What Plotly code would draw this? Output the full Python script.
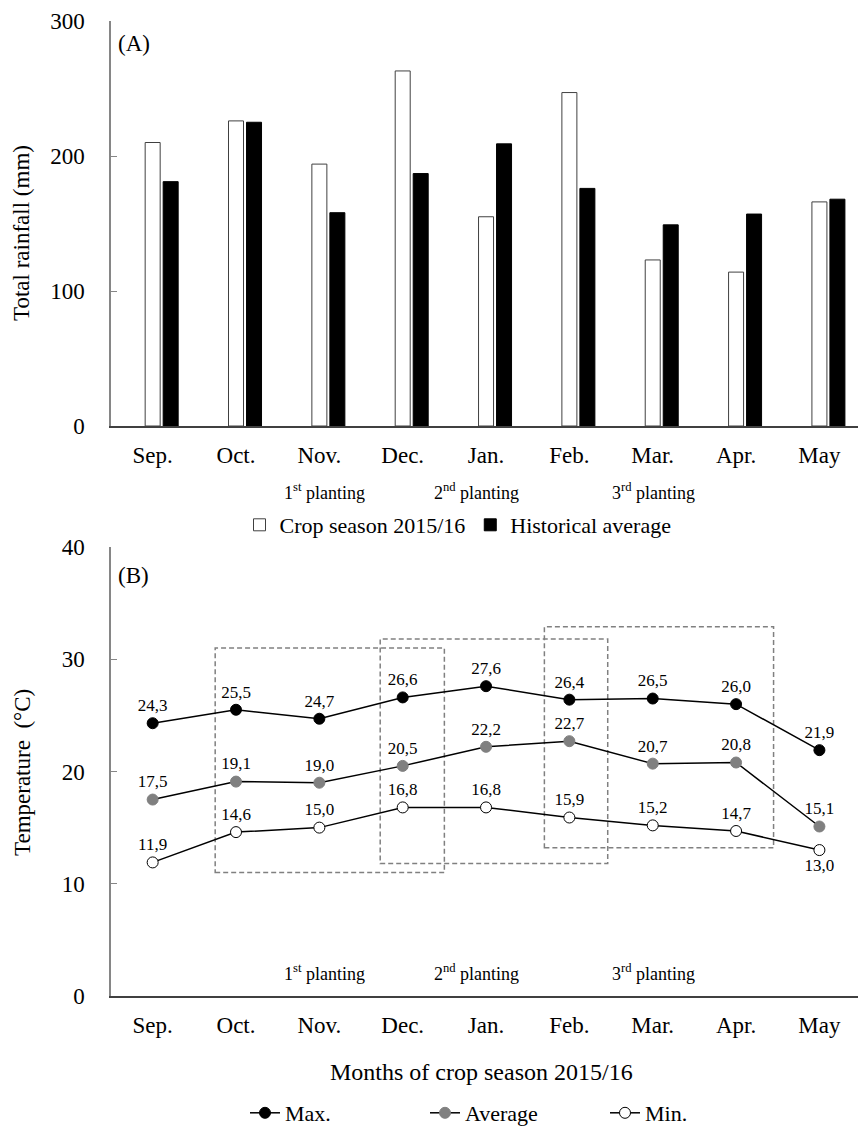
import plotly.graph_objects as go

# ---------------- data ----------------
months = ["Sep.", "Oct.", "Nov.", "Dec.", "Jan.", "Feb.", "Mar.", "Apr.", "May"]
rain_season = [210, 226, 194, 263, 155, 247, 123, 114, 166]
rain_hist = [181, 225, 158, 187, 209, 176, 149, 157, 168]

t_max = [24.3, 25.5, 24.7, 26.6, 27.6, 26.4, 26.5, 26.0, 21.9]
t_avg = [17.5, 19.1, 19.0, 20.5, 22.2, 22.7, 20.7, 20.8, 15.1]
t_min = [11.9, 14.6, 15.0, 16.8, 16.8, 15.9, 15.2, 14.7, 13.0]

planting_labels = ["1<sup>st</sup> planting", "2<sup>nd</sup> planting", "3<sup>rd</sup> planting"]
planting_x = [2.06, 3.89, 6.01]

box_x0 = [0.75, 2.73, 4.70]
box_x1 = [3.50, 5.46, 7.45]
box_y0 = [11.0, 11.8, 13.2]
box_y1 = [31.0, 31.8, 32.9]

FONT = "Liberation Serif"
W, H = 858, 1126


def fmt(v):
    return f"{v:.1f}".replace(".", ",")


fig = go.Figure()

# ---------------- top: rainfall bars ----------------
bw = 0.18
fig.add_trace(go.Bar(
    x=months, y=rain_season, name="Crop season 2015/16",
    marker=dict(color="white", line=dict(color="#404040", width=1)),
    width=bw, offset=-bw / 2, xaxis="x", yaxis="y", legend="legend",
))
fig.add_trace(go.Bar(
    x=months, y=rain_hist, name="Historical average",
    marker=dict(color="black", line=dict(color="black", width=1)),
    width=bw, offset=0.126, xaxis="x", yaxis="y", legend="legend",
))

# ---------------- bottom: temperatures ----------------
lab_font = dict(family=FONT, size=17, color="black")
fig.add_trace(go.Scatter(
    x=months, y=t_max, name="Max.", mode="lines+markers+text",
    line=dict(color="black", width=1.5),
    marker=dict(size=11, color="black", line=dict(color="black", width=1)),
    text=[fmt(v) for v in t_max], textposition="top center", textfont=lab_font,
    xaxis="x2", yaxis="y2", legend="legend2",
))
fig.add_trace(go.Scatter(
    x=months, y=t_avg, name="Average", mode="lines+markers+text",
    line=dict(color="black", width=1.5),
    marker=dict(size=11, color="#808080", line=dict(color="#808080", width=1)),
    text=[fmt(v) for v in t_avg], textposition="top center", textfont=lab_font,
    xaxis="x2", yaxis="y2", legend="legend2",
))
min_pos = ["top center"] * (len(t_min) - 1) + ["bottom center"]
fig.add_trace(go.Scatter(
    x=months, y=t_min, name="Min.", mode="lines+markers+text",
    line=dict(color="black", width=1.5),
    marker=dict(size=11, color="white", line=dict(color="black", width=1)),
    text=[fmt(v) for v in t_min], textposition=min_pos, textfont=lab_font,
    xaxis="x2", yaxis="y2", legend="legend2",
))

# dashed planting windows
for x0, x1, y0, y1 in zip(box_x0, box_x1, box_y0, box_y1):
    fig.add_shape(type="rect", xref="x2", yref="y2", x0=x0, x1=x1, y0=y0, y1=y1,
                  line=dict(color="#808080", width=1.5, dash="5px,3px"),
                  fillcolor="rgba(0,0,0,0)", layer="below")

annotations = []
for lab, px in zip(planting_labels, planting_x):
    annotations.append(dict(x=px, y=1 - 492 / H, xref="x", yref="paper", text=lab,
                            xanchor="center", yanchor="middle",
                            showarrow=False, font=dict(family=FONT, size=18, color="black")))
    annotations.append(dict(x=px, y=2.05, xref="x2", yref="y2", text=lab,
                            xanchor="center", yanchor="middle",
                            showarrow=False, font=dict(family=FONT, size=18, color="black")))

annotations += [
    dict(x=116 / W, y=1 - 44 / H, xref="paper", yref="paper", text="(A)", showarrow=False,
         xanchor="left", yanchor="middle", font=dict(family=FONT, size=23, color="black")),
    dict(x=116 / W, y=1 - 575 / H, xref="paper", yref="paper", text="(B)", showarrow=False,
         xanchor="left", yanchor="middle", font=dict(family=FONT, size=23, color="black")),
    dict(x=22 / W, y=1 - 233 / H, xref="paper", yref="paper", text="Total rainfall (mm)",
         textangle=-90, xanchor="center", yanchor="middle", showarrow=False,
         font=dict(family=FONT, size=23, color="black")),
    dict(x=22 / W, y=1 - 773 / H, xref="paper", yref="paper", text="Temperature  (°C)",
         textangle=-90, xanchor="center", yanchor="middle", showarrow=False,
         font=dict(family=FONT, size=23, color="black")),
    dict(x=482 / W, y=1 - 1072 / H, xref="paper", yref="paper", text="Months of crop season 2015/16",
         xanchor="center", yanchor="middle", showarrow=False,
         font=dict(family=FONT, size=24, color="black")),
]

xdom = [111 / W, 1.0]
xrange = [-0.5, 8.463]
common_x = dict(type="category", range=xrange, showgrid=False, zeroline=False, automargin=False,
                showline=True, linecolor="#404040", linewidth=1.5, ticks="",
                ticklabelstandoff=8,
                tickfont=dict(family=FONT, size=23, color="black"), fixedrange=True)
common_y = dict(showgrid=False, zeroline=False, showline=True, linecolor="#868686", automargin=False,
                linewidth=1.5, ticks="inside", ticklen=6, tickcolor="#868686",
                tickfont=dict(family=FONT, size=23, color="black"), ticklabelstandoff=20)

fig.update_layout(
    width=W, height=H,
    margin=dict(l=0, r=0, t=0, b=0, autoexpand=False),
    paper_bgcolor="white", plot_bgcolor="white",
    barmode="overlay",
    font=dict(family=FONT, color="black"),
    xaxis=dict(domain=xdom, anchor="y", **common_x),
    yaxis=dict(domain=[1 - 426 / H, 1 - 21 / H], anchor="x", range=[0, 300],
               tickvals=[0, 100, 200, 300], **common_y),
    xaxis2=dict(domain=xdom, anchor="y2", **common_x),
    yaxis2=dict(domain=[1 - 996 / H, 1 - 547 / H], anchor="x2", range=[0, 40],
                tickvals=[0, 10, 20, 30, 40], **common_y),
    legend=dict(orientation="h", x=458 / W, y=1 - 525 / H, xanchor="center", yanchor="middle",
                font=dict(family=FONT, size=22, color="black"), bgcolor="rgba(0,0,0,0)"),
    legend2=dict(orientation="h", x=515 / W, y=1 - 1113 / H, xanchor="center", yanchor="middle",
                 font=dict(family=FONT, size=22, color="black"), bgcolor="rgba(0,0,0,0)",
                 entrywidth=135),
    annotations=annotations,
    showlegend=True,
)

fig.write_html(
    "out.html",
    config={"displayModeBar": False},
    post_script="document.body.style.margin='0';document.body.style.padding='0';"
                "document.documentElement.style.overflow='hidden';",
)
